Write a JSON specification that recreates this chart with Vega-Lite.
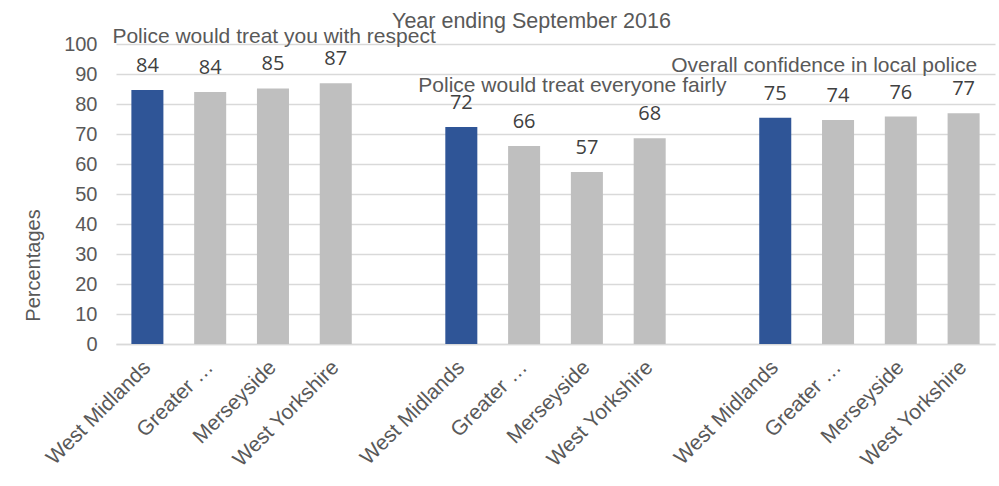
{
  "$schema": "https://vega.github.io/schema/vega-lite/v6.json",
  "width": 879,
  "height": 300,
  "autosize": {"type": "none"},
  "padding": {"left": 116, "top": 44, "right": 4, "bottom": 142},
  "background": "white",
  "config": {"view": {"stroke": null}, "font": "Liberation Sans"},
  "title": {"text": "Year ending September 2016", "fontSize": 21.5, "font": "Liberation Sans", "fontWeight": "normal", "color": "#595959", "anchor": "middle", "dx": -24, "offset": -6},
  "datasets": {
    "bars": [
      {"key": "R|West Midlands", "area": "West Midlands", "value": 84.7, "label": "84"},
      {"key": "R|Greater Manchester", "area": "Greater Manchester", "value": 84.0, "label": "84"},
      {"key": "R|Merseyside", "area": "Merseyside", "value": 85.2, "label": "85"},
      {"key": "R|West Yorkshire", "area": "West Yorkshire", "value": 86.9, "label": "87"},
      {"key": "F|West Midlands", "area": "West Midlands", "value": 72.3, "label": "72"},
      {"key": "F|Greater Manchester", "area": "Greater Manchester", "value": 66.0, "label": "66"},
      {"key": "F|Merseyside", "area": "Merseyside", "value": 57.3, "label": "57"},
      {"key": "F|West Yorkshire", "area": "West Yorkshire", "value": 68.6, "label": "68"},
      {"key": "C|West Midlands", "area": "West Midlands", "value": 75.4, "label": "75"},
      {"key": "C|Greater Manchester", "area": "Greater Manchester", "value": 74.7, "label": "74"},
      {"key": "C|Merseyside", "area": "Merseyside", "value": 75.8, "label": "76"},
      {"key": "C|West Yorkshire", "area": "West Yorkshire", "value": 76.9, "label": "77"}
    ],
    "t1": [{"key": "R|West Midlands", "value": 100.3, "title": "Police would treat you with respect"}],
    "t2": [{"key": "F|West Midlands", "value": 84.0, "title": "Police would treat everyone fairly"}],
    "t3": [{"key": "C|West Midlands", "value": 90.6, "title": "Overall confidence in local police"}]
  },
  "encoding": {
    "x": {
      "field": "key", "type": "nominal", "sort": null,
      "scale": {
        "domain": ["R|West Midlands", "R|Greater Manchester", "R|Merseyside", "R|West Yorkshire", "gap1",
                   "F|West Midlands", "F|Greater Manchester", "F|Merseyside", "F|West Yorkshire", "gap2",
                   "C|West Midlands", "C|Greater Manchester", "C|Merseyside", "C|West Yorkshire"],
        "paddingInner": 0.49, "paddingOuter": 0.245
      },
      "axis": {
        "title": null,
        "labelExpr": "indexof(datum.value, '|') >= 0 ? (indexof(datum.value, 'Greater') >= 0 ? 'Greater …' : split(datum.value, '|')[1]) : ''",
        "labelAngle": -45, "labelAlign": "right", "labelBaseline": "middle",
        "labelFontSize": 21, "labelColor": "#595959", "labelPadding": 20, "labelLimit": 300,
        "ticks": false, "domainColor": "#d9d9d9", "domainWidth": 1.5, "grid": false
      }
    },
    "y": {
      "field": "value", "type": "quantitative",
      "scale": {"domain": [0, 100], "nice": false},
      "axis": {
        "values": [0, 10, 20, 30, 40, 50, 60, 70, 80, 90, 100],
        "title": "Percentages", "titleFontSize": 20, "titleFontWeight": "normal", "titleColor": "#595959",
        "titleX": -83, "titleY": 221, "titleAngle": 270, "titleAlign": "center", "titleBaseline": "middle",
        "labelFontSize": 20, "labelColor": "#595959", "labelPadding": 19,
        "domain": false, "ticks": false, "grid": true, "gridColor": "#d9d9d9", "gridWidth": 1.5
      }
    }
  },
  "layer": [
    {
      "data": {"name": "bars"},
      "mark": {"type": "bar"},
      "encoding": {
        "color": {"field": "area", "type": "nominal", "legend": null,
          "scale": {"domain": ["West Midlands", "Greater Manchester", "Merseyside", "West Yorkshire"],
                    "range": ["#2F5597", "#BFBFBF", "#BFBFBF", "#BFBFBF"]}}
      }
    },
    {
      "data": {"name": "bars"},
      "mark": {"type": "text", "baseline": "alphabetic", "dy": -18, "fontSize": 20, "font": "Open Sans", "color": "#404040"},
      "encoding": {"text": {"field": "label"}}
    },
    {
      "data": {"name": "t1"},
      "mark": {"type": "text", "align": "left", "baseline": "alphabetic", "dx": -35, "fontSize": 21, "color": "#595959"},
      "encoding": {"text": {"field": "title"}}
    },
    {
      "data": {"name": "t2"},
      "mark": {"type": "text", "align": "left", "baseline": "alphabetic", "dx": -43, "fontSize": 21, "color": "#595959"},
      "encoding": {"text": {"field": "title"}}
    },
    {
      "data": {"name": "t3"},
      "mark": {"type": "text", "align": "left", "baseline": "alphabetic", "dx": -104, "fontSize": 21, "color": "#595959"},
      "encoding": {"text": {"field": "title"}}
    }
  ]
}
